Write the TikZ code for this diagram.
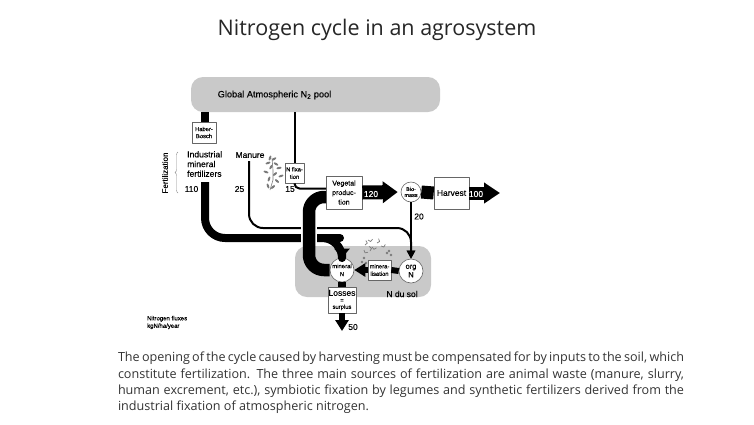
\documentclass[tikz,border=0pt]{standalone}
\usepackage{fontspec}
\setmainfont{Open Sans}
\setsansfont[FakeBold=0.25]{Liberation Sans}
\usetikzlibrary{arrows.meta,decorations.pathreplacing}
\definecolor{soilgray}{HTML}{C9C9C9}
\definecolor{plantgray}{HTML}{7A7A7A}
\tikzset{
    box/.style={draw=black!60, fill=white, line width=0.6pt, inner sep=0pt, align=center, font=\sffamily\fontsize{7}{9.5}\selectfont},
    disc/.style={box, circle},
    label/.style={inner sep=0pt, align=left, font=\sffamily\fontsize{8.5}{10}\selectfont},
    flow/.style={black, line width=2pt, rounded corners=14pt, -{Triangle[width=8pt,length=8pt]}},
    band/.style={black, line width=8pt, rounded corners=20pt},
}
\begin{document}
\begin{tikzpicture}[x=1pt, y=-1pt, line join=round]
\useasboundingbox (0,0) rectangle (754,424);

% titre et texte
\node (title) at (377,30) [inner sep=0pt, font=\fontsize{21.5}{26}\selectfont, text=black!85] {Nitrogen cycle in an agrosystem};
\node (caption) at (401,383) [inner sep=0pt, text width=566pt, align=justify, font=\fontsize{12.6}{16.4}\selectfont, text=black!80]
    {The opening of the cycle caused by harvesting must be compensated for by inputs to the soil, which\linebreak
    constitute fertilization. The three main sources of fertilization are animal waste (manure, slurry,\linebreak
    human excrement, etc.), symbiotic fixation by legumes and synthetic fertilizers derived from the\linebreak
    industrial fixation of atmospheric nitrogen.};

% fonds gris
\node (pool) at (315.5,94.5) [fill=soilgray, rounded corners=12pt, minimum width=249pt, minimum height=35pt, inner sep=0pt] {};
\node (soil) at (363,271.5) [fill=soilgray, rounded corners=12pt, minimum width=136pt, minimum height=51pt, inner sep=0pt] {};
\node (pooltext) at (274.5,95) [label, font=\sffamily\fontsize{9.2}{10}\selectfont] {Global Atmospheric N\textsubscript{2} pool};
\node (soiltext) at (402,294) [label] {N du sol};

% boites
\node (haber) at (204,132.5) [box, minimum width=24pt, minimum height=21pt, font=\sffamily\fontsize{5.8}{7}\selectfont] {Haber-\\Bosch};
\node (nfix) at (294.5,173) [box, minimum width=19pt, minimum height=20pt, font=\sffamily\fontsize{5.8}{7.5}\selectfont] {N fixa-\\tion};
\node (veg) at (344,192.5) [box, minimum width=36pt, minimum height=33pt] {Vegetal\\produc-\\tion};
\node (harvest) at (451.5,193) [box, minimum width=35pt, minimum height=32pt, font=\sffamily\fontsize{8.5}{10}\selectfont] {Harvest};
\node (biomass) at (411,192) [disc, minimum width=20pt, font=\sffamily\fontsize{5.5}{6}\selectfont] {Bio-\\mass};
\node (mineral) at (342,270) [disc, minimum width=24pt, font=\sffamily\fontsize{6}{8}\selectfont] {mineral\\N};
\node (org) at (411,271) [disc, minimum width=24pt, font=\sffamily\fontsize{7.5}{8.5}\selectfont] {org\\N};
\node (minera) at (379.5,270) [box, minimum width=23pt, minimum height=20pt, font=\sffamily\fontsize{5.8}{7.5}\selectfont] {minera-\\lisation};
\node (losses) at (342,300) [box, minimum width=28pt, minimum height=26pt, font=\sffamily\fontsize{5.8}{6.5}\selectfont] {{\fontsize{8.5}{9.5}\selectfont Losses}\\=\\surplus};

% textes
\node (fert) at (187,164) [label, anchor=west, font=\sffamily\fontsize{8.6}{9.7}\selectfont] {Industrial\\mineral\\fertilizers};
\node (manure) at (250,155) [label] {Manure};
\node (fertaxis) at (165,173) [label, rotate=90, font=\sffamily\fontsize{8}{9}\selectfont] {Fertilization};
\node (fert110) at (191.5,189) [label] {110};
\node (man25) at (239.5,189) [label] {25};
\node (fix15) at (290,189) [label] {15};
\node (out20) at (419,216.5) [label] {20};
\node (out50) at (353,327) [label] {50};
\node (units) at (147,322.5) [label, anchor=west, font=\sffamily\fontsize{6}{7.5}\selectfont] {Nitrogen fluxes\\kgN/ha/year};

% accolade
\coordinate (bracetop) at (178,193);
\coordinate (bracebot) at (178,152);
\draw[black!45, line width=0.4pt, decorate, decoration={brace, amplitude=3pt}] (bracetop) -- (bracebot);

% plantes
\draw[plantgray, line width=0.6pt] (270,190) -- (273,180) -- (273,170) -- (272,158);
\foreach \x/\y/\a in {270/158/70, 274/159/30, 268/163/20, 276/164/-30, 271/167/60, 279/168/10, 266/172/-20, 275/174/40, 281/176/20, 269/179/70, 277/181/-40, 268/186/110, 273/187/40} {
    \fill[plantgray, rotate around={\a:(\x,\y)}] (\x,\y) ellipse[x radius=2.6pt, y radius=1.1pt];
}
\foreach \x/\y/\a in {365/245/40, 368/240/-30, 372/247/-50, 377/243/30, 381/246/-20, 370/251/60, 364/250/-70} {
    \draw[plantgray, line width=0.7pt] (\x,\y) -- ++(\a:3pt) -- ++(\a+80:3pt);
}
\foreach \x/\y in {387/253, 391/255, 389/251, 364/258, 362/262, 366/263} {
    \fill[plantgray] (\x,\y) circle[radius=1.3pt];
}

% liens
\coordinate (haberin) at (205,112);
\coordinate (haberout) at (205,122);
\coordinate (fertstart) at (205,182);
\coordinate (fertturn) at (320,238);
\coordinate (fertend) at (342,250);
\coordinate (manstart) at (249,161);
\coordinate (manturn) at (300,228);
\coordinate (vegin) at (326,188.5);
\coordinate (vegout) at (326,197);
\coordinate (vegturn) at (309,230);
\coordinate (halotop) at (309,221);
\coordinate (halobot) at (309,246);
\coordinate (harvestend) at (500,193);
\coordinate (lossend) at (342,331);

\draw[black, line width=8pt] (haberin) -- (haberout);
\draw[flow] (manstart) |- (manturn) -| (org.north);
\draw[band] (fertstart) |- (fertturn) -| (fertend);
\draw[white, line width=15.5pt] (halotop) -- (halobot);
\draw[band, line width=12.5pt, rounded corners=15pt] (vegout) -| (vegturn) |- (mineral.west);
\draw[-{Triangle[width=15pt,length=9pt]}, black, line width=8pt] (fertend) -- (mineral.north);
\draw[black, line width=2pt] (pool.south -| nfix) -- (nfix.north);
\draw[black, line width=2pt, rounded corners=5pt] (nfix.south) |- (vegin);
\draw[flow, rounded corners=0pt] (biomass.south) -- (org.north);

\draw[black, line width=14pt, -{Triangle[width=21pt,length=15pt]}, shorten >=3pt] (veg.east) -- (biomass.west);
\draw[black, line width=13pt] (biomass.east) -- (harvest.west);
\draw[black, line width=13pt, -{Triangle[width=20pt,length=16pt]}] (harvest.east) -- (harvestend);
\draw[black, line width=6pt] (org.west) -- (minera.east);
\draw[black, line width=6pt, -{Triangle[width=13pt,length=11pt]}] (minera.west) -- (mineral.east);
\draw[black, line width=8pt] (mineral.south) -- (losses.north);
\draw[black, line width=6pt, -{Triangle[width=13pt,length=11pt]}] (losses.south) -- (lossend);

\node (flux120) at (371,194) [label, text=white, font=\sffamily\fontsize{8.5}{10}\selectfont] {120};
\node (flux100) at (476,194) [label, text=white, font=\sffamily\fontsize{8.5}{10}\selectfont] {100};
\end{tikzpicture}
\end{document}
